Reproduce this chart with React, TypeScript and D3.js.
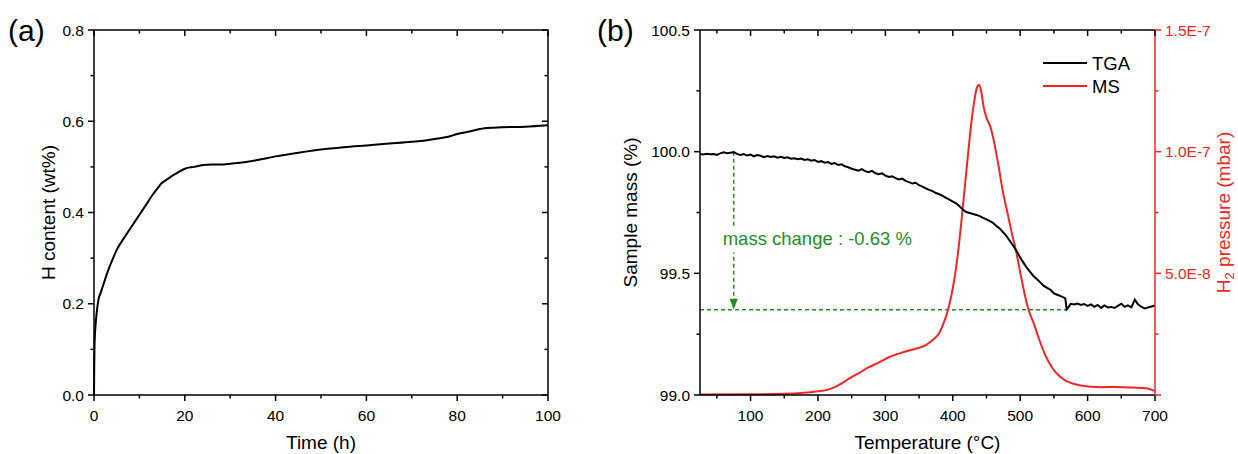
import React from "react";
import * as d3 from "d3";

// ---- panel (a): H content vs time
const timeH = [0, 0.05, 0.1, 0.2, 0.4, 0.7, 1, 1.5, 2, 3, 4, 5, 6, 7, 8, 9, 10, 11, 12, 13, 14, 15, 16, 18, 20, 22, 24, 26, 28, 30, 33, 36, 40, 45, 50, 55, 60, 65, 70, 73, 75, 78, 80, 83, 85, 88, 90, 95, 100];
const hContent = [0, 0.06, 0.1, 0.13, 0.16, 0.19, 0.21, 0.225, 0.24, 0.27, 0.295, 0.318, 0.335, 0.35, 0.365, 0.38, 0.395, 0.41, 0.425, 0.44, 0.453, 0.465, 0.472, 0.485, 0.496, 0.5, 0.504, 0.505, 0.505, 0.507, 0.51, 0.515, 0.523, 0.531, 0.538, 0.543, 0.547, 0.551, 0.555, 0.558, 0.561, 0.566, 0.572, 0.578, 0.583, 0.586, 0.587, 0.588, 0.591];

// ---- panel (b): TGA + MS vs temperature
const tgaTemp = [25, 30, 35, 40, 45, 50, 55, 60, 65, 70, 75, 80, 85, 90, 95, 100, 105, 110, 115, 120, 125, 130, 135, 140, 145, 150, 155, 160, 165, 170, 175, 180, 185, 190, 195, 200, 205, 210, 215, 220, 225, 230, 235, 240, 245, 250, 255, 260, 265, 270, 275, 280, 285, 290, 295, 300, 305, 310, 315, 320, 325, 330, 335, 340, 345, 350, 355, 360, 365, 370, 375, 380, 385, 390, 395, 400, 405, 410, 415, 420, 425, 430, 435, 440, 445, 450, 455, 460, 465, 470, 475, 480, 485, 490, 495, 500, 505, 510, 515, 520, 525, 530, 535, 540, 545, 550, 555, 560, 565, 567, 569, 572, 575, 580, 585, 590, 595, 600, 605, 610, 615, 620, 625, 630, 635, 640, 645, 650, 655, 660, 665, 670, 675, 680, 685, 690, 695, 700];
const tgaMass = [99.990, 99.988, 99.991, 99.989, 99.990, 99.987, 99.993, 99.997, 99.994, 99.996, 99.998, 99.991, 99.986, 99.990, 99.984, 99.988, 99.981, 99.986, 99.983, 99.977, 99.982, 99.978, 99.981, 99.975, 99.979, 99.974, 99.977, 99.971, 99.973, 99.969, 99.972, 99.966, 99.969, 99.963, 99.966, 99.958, 99.961, 99.955, 99.957, 99.950, 99.953, 99.945, 99.948, 99.940, 99.936, 99.930, 99.926, 99.922, 99.928, 99.920, 99.916, 99.921, 99.912, 99.907, 99.911, 99.902, 99.896, 99.899, 99.891, 99.886, 99.889, 99.880, 99.875, 99.869, 99.872, 99.862, 99.856, 99.849, 99.843, 99.838, 99.830, 99.825, 99.818, 99.810, 99.803, 99.795, 99.788, 99.776, 99.762, 99.752, 99.748, 99.744, 99.740, 99.735, 99.728, 99.722, 99.715, 99.707, 99.694, 99.683, 99.668, 99.652, 99.632, 99.612, 99.590, 99.565, 99.543, 99.522, 99.505, 99.488, 99.476, 99.462, 99.448, 99.440, 99.432, 99.418, 99.412, 99.406, 99.400, 99.396, 99.352, 99.362, 99.375, 99.372, 99.376, 99.370, 99.374, 99.366, 99.372, 99.362, 99.370, 99.358, 99.368, 99.360, 99.362, 99.358, 99.366, 99.375, 99.362, 99.368, 99.360, 99.392, 99.372, 99.362, 99.356, 99.360, 99.364, 99.368];

const msTemp = [25, 100, 150, 175, 200, 215, 225, 235, 249, 262, 274, 290, 305, 320, 335, 350, 360, 371, 380, 385, 393, 402, 408, 413, 418, 423, 428, 432, 436, 439, 442, 446, 450, 456, 462, 468, 474, 481, 488, 494, 501, 507, 513, 520, 528, 537, 548, 558, 568, 580, 592, 605, 620, 640, 660, 680, 690, 700];
// H2 pressure in units of 1E-8 mbar
const msPressure = [0.02, 0.03, 0.05, 0.08, 0.15, 0.22, 0.32, 0.48, 0.72, 0.92, 1.12, 1.33, 1.55, 1.7, 1.83, 1.94, 2.05, 2.28, 2.55, 2.85, 3.5, 4.7, 5.9, 7.2, 8.6, 10.0, 11.3, 12.1, 12.65, 12.75, 12.5, 11.8, 11.4, 11.0, 10.3, 9.4, 8.4, 7.5, 6.6, 5.9, 4.9, 4.1, 3.45, 2.95, 2.3, 1.65, 1.1, 0.78, 0.58, 0.45, 0.38, 0.34, 0.32, 0.33, 0.31, 0.29, 0.26, 0.16];

// annotation (data units)
const massStart = 100.0;
const massEnd = 99.35;
const arrowTemp = 75;
const plateauTemp = 568;
const labelLevel = 99.615;
const annotationText = "mass change : -0.63 %";

const FONT = "'Liberation Sans', Arial, sans-serif";
const RED = "#f52525";
const GREEN = "#1f8f1f";
const TICK_FS = 15.5;
const TITLE_FS = 19;

const A = { left: 94, right: 548, top: 30, bottom: 395 };
const B = { left: 700, right: 1155, top: 30, bottom: 395 };

type Tick = { v: number; major: boolean };

function makeTicks(start: number, end: number, step: number): Tick[] {
  const out: Tick[] = [];
  const n = Math.round((end - start) / (step / 2));
  for (let i = 0; i <= n; i++) {
    out.push({ v: start + (i * step) / 2, major: i % 2 === 0 });
  }
  return out;
}

function sciLabel(v: number) {
  if (v === 0) return "";
  const e = Math.floor(Math.log10(v) + 1e-9);
  const m = v / Math.pow(10, e);
  return `${m.toFixed(1)}E${e}`;
}

const PanelA = () => {
  const x = d3.scaleLinear().domain([0, 100]).range([A.left, A.right]);
  const y = d3.scaleLinear().domain([0, 0.8]).range([A.bottom, A.top]);
  const xt = makeTicks(0, 100, 20);
  const yt = makeTicks(0, 0.8, 0.2);
  const line = d3
    .line<number>()
    .x((_, i) => x(timeH[i]))
    .y((d) => y(d))
    .curve(d3.curveMonotoneX);

  return (
    <g>
      <text x={8} y={41} fontSize={30} fontFamily={FONT}>(a)</text>
      <path d={line(hContent) || ""} fill="none" stroke="#000" strokeWidth={2} />
      <rect x={A.left} y={A.top} width={A.right - A.left} height={A.bottom - A.top} fill="none" stroke="#000" strokeWidth={1.5} />
      {xt.map((t, i) => {
        const len = t.major ? 6 : 3.5;
        return (
          <g key={"x" + i}>
            <line x1={x(t.v)} x2={x(t.v)} y1={A.bottom} y2={A.bottom + len} stroke="#000" strokeWidth={1.5} />
            <line x1={x(t.v)} x2={x(t.v)} y1={A.top} y2={A.top + len} stroke="#000" strokeWidth={1.5} />
            {t.major && (
              <text x={x(t.v)} y={421} textAnchor="middle" fontSize={TICK_FS} fontFamily={FONT}>{d3.format("d")(t.v)}</text>
            )}
          </g>
        );
      })}
      {yt.map((t, i) => {
        const len = t.major ? 6 : 3.5;
        return (
          <g key={"y" + i}>
            <line x1={A.left - len} x2={A.left} y1={y(t.v)} y2={y(t.v)} stroke="#000" strokeWidth={1.5} />
            <line x1={A.right - len} x2={A.right} y1={y(t.v)} y2={y(t.v)} stroke="#000" strokeWidth={1.5} />
            {t.major && (
              <text x={A.left - 10} y={y(t.v) + 5.5} textAnchor="end" fontSize={TICK_FS} fontFamily={FONT}>{d3.format(".1f")(t.v)}</text>
            )}
          </g>
        );
      })}
      <text x={(A.left + A.right) / 2} y={449} textAnchor="middle" fontSize={TITLE_FS} fontFamily={FONT}>Time (h)</text>
      <text transform={`translate(55,${(A.top + A.bottom) / 2}) rotate(-90)`} textAnchor="middle" fontSize={TITLE_FS} fontFamily={FONT}>H content (wt%)</text>
    </g>
  );
};

const PanelB = () => {
  const x = d3.scaleLinear().domain([25, 700]).range([B.left, B.right]);
  const y = d3.scaleLinear().domain([99.0, 100.5]).range([B.bottom, B.top]);
  const y2 = d3.scaleLinear().domain([0, 1.5e-7]).range([B.bottom, B.top]);
  // x major at 100..700, minor at 50, 150, ...
  const xTicks: Tick[] = makeTicks(50, 700, 100).map((t) => ({ v: t.v, major: t.v % 100 === 0 }));
  const yt = makeTicks(99.0, 100.5, 0.5);
  const y2t = makeTicks(0, 1.5e-7, 5e-8);

  const tgaLine = d3
    .line<number>()
    .x((_, i) => x(tgaTemp[i]))
    .y((d) => y(d));
  const msLine = d3
    .line<number>()
    .x((_, i) => x(msTemp[i]))
    .y((d) => y2(d * 1e-8))
    .curve(d3.curveMonotoneX);

  const ax = x(arrowTemp);
  const yEnd = y(massEnd);
  const yStart = y(massStart);
  const textY = y(labelLevel);

  return (
    <g>
      <text x={597} y={41} fontSize={30} fontFamily={FONT}>(b)</text>
      {/* annotation */}
      <line x1={B.left} x2={x(plateauTemp)} y1={yEnd} y2={yEnd} stroke={GREEN} strokeWidth={1.5} strokeDasharray="4,3" />
      <line x1={ax} x2={ax} y1={yStart} y2={yEnd - 9} stroke={GREEN} strokeWidth={1.5} strokeDasharray="4,3" />
      <path d={`M${ax - 4},${yEnd - 11} L${ax + 4},${yEnd - 11} L${ax},${yEnd} Z`} fill={GREEN} />
      <rect x={ax - 12} y={textY - 18} width={196} height={25} fill="#fff" />
      <text x={ax - 11} y={textY} fontSize={18.5} fontFamily={FONT} fill={GREEN}>{annotationText}</text>

      <path d={msLine(msPressure) || ""} fill="none" stroke={RED} strokeWidth={2} />
      <path d={tgaLine(tgaMass) || ""} fill="none" stroke="#000" strokeWidth={2} />

      {/* frame */}
      <line x1={B.left} x2={B.right} y1={B.top} y2={B.top} stroke="#000" strokeWidth={1.5} />
      <line x1={B.left} x2={B.right} y1={B.bottom} y2={B.bottom} stroke="#000" strokeWidth={1.5} />
      <line x1={B.left} x2={B.left} y1={B.top} y2={B.bottom} stroke="#000" strokeWidth={1.5} />
      <line x1={B.right} x2={B.right} y1={B.top} y2={B.bottom} stroke={RED} strokeWidth={1.5} />

      {xTicks.map((t, i) => {
        const len = t.major ? 6 : 3.5;
        return (
          <g key={"x" + i}>
            <line x1={x(t.v)} x2={x(t.v)} y1={B.bottom} y2={B.bottom + len} stroke="#000" strokeWidth={1.5} />
            <line x1={x(t.v)} x2={x(t.v)} y1={B.top} y2={B.top + len} stroke="#000" strokeWidth={1.5} />
            {t.major && (
              <text x={x(t.v)} y={421} textAnchor="middle" fontSize={TICK_FS} fontFamily={FONT}>{d3.format("d")(t.v)}</text>
            )}
          </g>
        );
      })}
      {yt.map((t, i) => {
        const len = t.major ? 6 : 3.5;
        return (
          <g key={"y" + i}>
            <line x1={B.left - len} x2={B.left} y1={y(t.v)} y2={y(t.v)} stroke="#000" strokeWidth={1.5} />
            {t.major && (
              <text x={B.left - 10} y={y(t.v) + 5.5} textAnchor="end" fontSize={TICK_FS} fontFamily={FONT}>{d3.format(".1f")(t.v)}</text>
            )}
          </g>
        );
      })}
      {y2t.map((t, i) => {
        const len = t.major ? 6 : 3.5;
        return (
          <g key={"y2" + i}>
            <line x1={B.right} x2={B.right + len} y1={y2(t.v)} y2={y2(t.v)} stroke={RED} strokeWidth={1.5} />
            {t.major && (
              <text x={B.right + 10} y={y2(t.v) + 5.5} fontSize={TICK_FS} fontFamily={FONT} fill={RED}>{sciLabel(t.v)}</text>
            )}
          </g>
        );
      })}

      {/* legend */}
      <line x1={1043} x2={1087} y1={63} y2={63} stroke="#000" strokeWidth={2} />
      <text x={1092} y={69.5} fontSize={18.5} fontFamily={FONT}>TGA</text>
      <line x1={1043} x2={1087} y1={86} y2={86} stroke={RED} strokeWidth={2} />
      <text x={1092} y={92.5} fontSize={18.5} fontFamily={FONT}>MS</text>

      <text x={(B.left + B.right) / 2} y={449} textAnchor="middle" fontSize={TITLE_FS} fontFamily={FONT}>Temperature (°C)</text>
      <text transform={`translate(637,${(B.top + B.bottom) / 2}) rotate(-90)`} textAnchor="middle" fontSize={TITLE_FS} fontFamily={FONT}>Sample mass (%)</text>
      <text transform={`translate(1230,${(B.top + B.bottom) / 2}) rotate(-90)`} textAnchor="middle" fontSize={TITLE_FS} fontFamily={FONT} fill={RED}>
        H<tspan fontSize={13} dy={4}>2</tspan><tspan dy={-4}> pressure (mbar)</tspan>
      </text>
    </g>
  );
};

export default function App() {
  return (
    <svg width={1238} height={454} style={{ position: "absolute", left: 0, top: 0, background: "#fff" }}>
      <PanelA />
      <PanelB />
    </svg>
  );
}
